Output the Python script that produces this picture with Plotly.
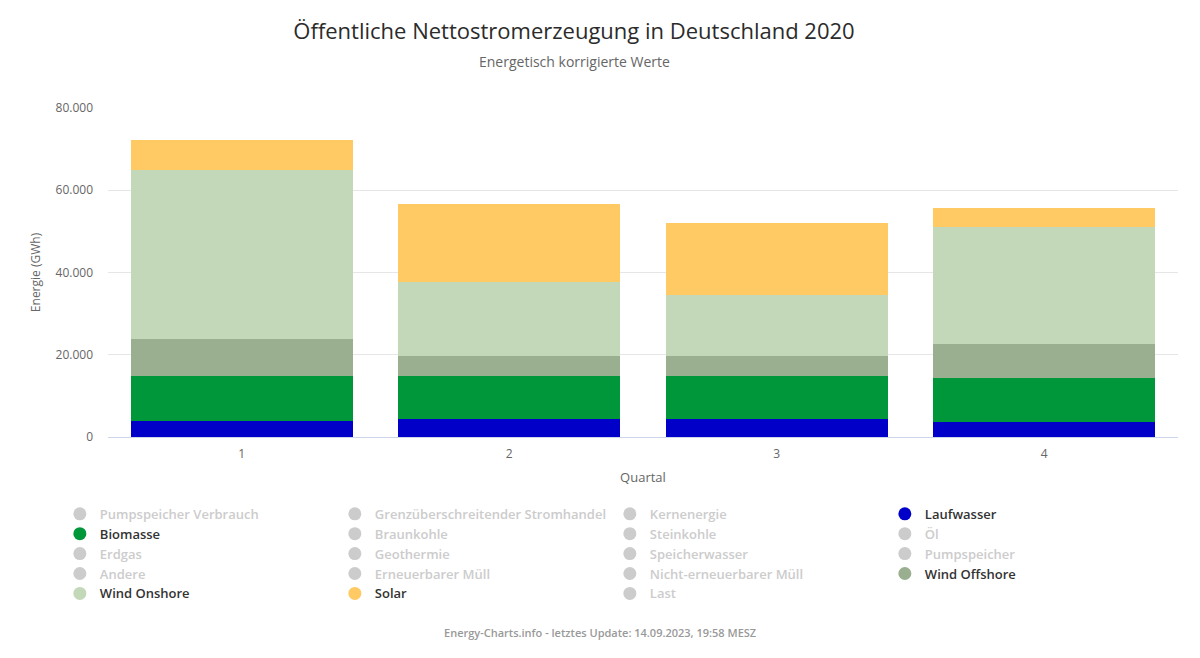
import plotly.graph_objects as go

# Quartale 2020
quartale = ["1", "2", "3", "4"]

# Nettostromerzeugung je Quartal (GWh)
laufwasser = [3950, 4450, 4450, 3720]
biomasse = [10770, 10290, 10290, 10700]
wind_offshore = [9090, 5030, 4860, 8100]
wind_onshore = [41170, 17820, 15000, 28450]
solar = [7120, 19140, 17440, 4710]

# Legende (Reihenfolge wie im Original, zeilenweise)
legend_names = [
    "Pumpspeicher Verbrauch", "Grenzüberschreitender Stromhandel", "Kernenergie", "Laufwasser",
    "Biomasse", "Braunkohle", "Steinkohle", "Öl",
    "Erdgas", "Geothermie", "Speicherwasser", "Pumpspeicher",
    "Andere", "Erneuerbarer Müll", "Nicht-erneuerbarer Müll", "Wind Offshore",
    "Wind Onshore", "Solar", "Last",
]

colors = {
    "Laufwasser": "#0000c8",
    "Biomasse": "#00963a",
    "Wind Offshore": "#9aae90",
    "Wind Onshore": "#c3d8b9",
    "Solar": "#ffc964",
}

series = [
    ("Laufwasser", laufwasser),
    ("Biomasse", biomasse),
    ("Wind Offshore", wind_offshore),
    ("Wind Onshore", wind_onshore),
    ("Solar", solar),
]

fig = go.Figure()

# gestapelte Säulen
for name, values in series:
    fig.add_trace(go.Bar(
        x=quartale, y=values, name=name,
        marker=dict(color=colors[name], line=dict(width=0)),
        showlegend=False,
    ))

# Legendeneinträge mit runden Symbolen, ausgeblendete Reihen grau
for name in legend_names:
    active = name in colors
    col = colors.get(name, "#cccccc")
    txt_col = "#333333" if active else "#cccccc"
    fig.add_trace(go.Scatter(
        x=[None], y=[None], mode="markers",
        name=f"<span style='color:{txt_col}'>{name}</span>",
        marker=dict(color=col, size=13, symbol="circle"),
        hoverinfo="skip",
    ))

# die Seite hat 8px Rand, daher etwas kleiner
W, H = 1184, 642

fig.update_layout(
    width=W, height=H,
    barmode="stack",
    bargap=0.17,
    plot_bgcolor="white",
    paper_bgcolor="white",
    separators=",.",
    font=dict(family="Open Sans, sans-serif", color="#666666"),
    margin=dict(l=100, r=14, t=100, b=213, autoexpand=False),
    title=dict(
        text="Öffentliche Nettostromerzeugung in Deutschland 2020",
        x=566 / W, xanchor="center", xref="container",
        y=1 - 23 / H, yref="container", yanchor="middle",
        font=dict(size=22, color="#2b2b2b"),
    ),
    xaxis=dict(
        type="category",
        automargin=False,
        showgrid=False,
        showline=True, linecolor="#ccd6eb", linewidth=1,
        tickfont=dict(size=12, color="#666666"),
        ticklabelstandoff=6,
        title=dict(text="Quartal", font=dict(size=13, color="#666666"), standoff=11),
    ),
    yaxis=dict(
        automargin=False,
        range=[0, 80000],
        tickvals=[0, 20000, 40000, 60000, 80000],
        tickformat=",",
        showgrid=True, gridcolor="#e6e6e6", gridwidth=1,
        zeroline=False,
        tickfont=dict(size=12, color="#666666"),
        ticklabelstandoff=14,
        title=dict(text="Energie (GWh)", font=dict(size=12, color="#666666"), standoff=12),
    ),
    legend=dict(
        orientation="h",
        traceorder="normal",
        x=-0.045, xanchor="left",
        y=-0.188, yanchor="top",
        entrywidth=230, entrywidthmode="pixels",
        font=dict(size=13, color="#333333", weight=600),
        itemclick=False, itemdoubleclick=False,
    ),
    annotations=[
        dict(
            text="Energetisch korrigierte Werte",
            xref="paper", yref="paper",
            x=(566 - 100) / 1070, y=1 + (100 - 53) / 329,
            xanchor="center", yanchor="middle",
            showarrow=False,
            font=dict(size=14, color="#666666"),
        ),
        dict(
            text="Energy-Charts.info - letztes Update: 14.09.2023, 19:58 MESZ",
            xref="paper", yref="paper",
            x=(592 - 100) / 1070, y=-(624 - 429) / 329,
            xanchor="center", yanchor="middle",
            showarrow=False,
            font=dict(size=11, color="#999999", weight=600),
        ),
    ],
)

fig.write_html("out.html")
